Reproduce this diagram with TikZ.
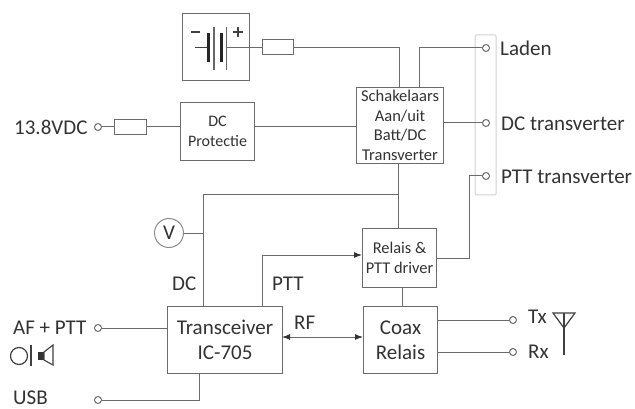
\documentclass[tikz,border=0pt]{standalone}
\usepackage{fontspec}
\setmainfont{Carlito}
\usetikzlibrary{arrows.meta}
\definecolor{ln}{gray}{0.42}
\tikzset{
  x=1pt,y=-1pt,
  conn/.style={draw=ln,line width=1pt},
  boxn/.style={draw=ln,line width=1.1pt,fill=white,inner sep=0pt,align=center,text=black!80,anchor=north west},
  term/.style={circle,draw=ln,line width=1pt,fill=white,minimum size=7pt,inner sep=0pt},
  lab/.style={text=black!80,font=\fontsize{21}{25}\selectfont,inner sep=0pt},
  arr/.style={conn,-{Latex[length=8pt,width=6pt,black!80]}},
  darr/.style={conn,{Latex[length=8pt,width=6pt,black!80]}-{Latex[length=8pt,width=6pt,black!80]}}
}
\begin{document}
\begin{tikzpicture}
\useasboundingbox (0,0) rectangle (635,409);
\fill[white] (0,0) rectangle (635,409);
% connector strip
\draw[black!18,line width=1pt,rounded corners=1pt] (475,35) rectangle (496,195);
% boxes
\node[boxn,minimum width=67pt,minimum height=67pt] (bat) at (182,13) {};
\node[boxn,minimum width=87pt,minimum height=76pt,font=\fontsize{16.5}{19.5}\selectfont] (sw) at (356,87) {Schakelaars\\Aan/uit\\Batt/DC\\Transverter};
\node[boxn,minimum width=74pt,minimum height=58pt,font=\fontsize{16}{20}\selectfont] (dcp) at (180,102) {DC\\Protectie};
\node[boxn,minimum width=74pt,minimum height=59pt,font=\fontsize{16.4}{19.5}\selectfont] (rel) at (362,228) {Relais \&\\PTT driver};
\node[boxn,minimum width=115pt,minimum height=67pt,font=\fontsize{21}{25}\selectfont] (trx) at (167,306) {Transceiver\\IC-705};
\node[boxn,minimum width=74pt,minimum height=67pt,font=\fontsize{21}{25}\selectfont] (cox) at (363,306) {Coax\\Relais};
% terminals
\node[term] (tlad) at (486,48) {};
\node[term] (tdc) at (486,123) {};
\node[term] (tptt) at (486,176) {};
\node[term] (tin) at (98,127) {};
\node[term] (taf) at (98,328) {};
\node[term] (tusb) at (98,400) {};
\node[term] (ttx) at (513,320) {};
\node[term] (trxx) at (513,352) {};
\node[circle,draw=black!45,line width=1pt,fill=white,minimum size=29pt,inner sep=0pt,text=black!80,font=\fontsize{21}{25}\selectfont] (vm) at (169,233) {V};
% fuses
\node[draw=ln,line width=1pt,minimum width=31pt,minimum height=15pt,inner sep=0pt] (f1) at (277.5,47.5) {};
\node[draw=ln,line width=1pt,minimum width=32pt,minimum height=15pt,inner sep=0pt] (f2) at (130,127) {};
% coordinates
\coordinate (batr) at (226,48);
\coordinate (swa) at (399,87);
\coordinate (swl) at (419,87);
\coordinate (swb) at (398,163);
\coordinate (j1) at (398,195);
\coordinate (rela) at (398,228);
\coordinate (relb) at (402,287);
\coordinate (coxa) at (402,306);
\coordinate (trxd) at (203,306);
\coordinate (trxp) at (262,306);
\coordinate (trxu) at (199,373);
\coordinate (swr) at (443,123);
\coordinate (relr) at (436,258);
\coordinate (rell) at (362,255);
\coordinate (trxr) at (282,337);
\coordinate (coxl) at (363,337);
% connectors
\draw[conn] (batr) -- (f1.west |- batr);
\draw[conn] (f1.east |- batr) -- (batr -| swa) -- (swa);
\draw[conn] (swl) -- (swl |- tlad) -- (tlad.west);
\draw[conn] (swr) -- (tdc.west);
\draw[conn] (tptt.west) -- (469,176) -- (469,258) -- (relr);
\draw[conn] (tin.east) -- (f2.west);
\draw[conn] (f2.east) -- (f2.east -| dcp.west);
\draw[conn] (dcp.east |- f2) -- (sw.west |- f2);
\draw[conn] (swb) -- (rela);
\draw[conn] (j1) -- (j1 -| trxd) -- (trxd);
\draw[conn] (vm.east) -- (vm.east -| trxd);
\draw[arr] (trxp) -- (trxp |- rell) -- (rell);
\draw[conn] (relb) -- (coxa);
\draw[darr] (trxr) -- (coxl);
\draw[conn] (taf.east) -- (taf.east -| trx.west);
\draw[conn] (tusb.east) -- (tusb.east -| trxu) -- (trxu);
\draw[conn] (ttx.west -| cox.east) -- (ttx.west);
\draw[conn] (trxx.west -| cox.east) -- (trxx.west);
% battery symbol
\draw[black!75,line width=1pt] (195,48) -- (208,48);
\draw[black!85,line width=3pt] (208,33) -- (208,62);
\draw[black!60,line width=1.5pt] (214,27) -- (214,70);
\draw[black!85,line width=3pt] (221,33) -- (221,62);
\draw[black!60,line width=1.5pt] (226.5,27) -- (226.5,70);
\draw[black!75,line width=1.5pt] (191,32) -- (200,32);
\draw[black!75,line width=1.5pt] (233,32) -- (243,32) (238,27) -- (238,37);
% labels
\node[lab,anchor=west] (llad) at (500,48) {Laden};
\node[lab,anchor=west] (ldc) at (501,124) {DC transverter};
\node[lab,anchor=west] (lptt) at (501,177) {PTT transverter};
\node[lab,anchor=west] (lin) at (14,127) {13.8VDC};
\node[lab,anchor=west] (laf) at (13,328) {AF + PTT};
\node[lab,anchor=west] (lusb) at (13,398) {USB};
\node[lab,anchor=west] (ldcl) at (172,284) {DC};
\node[lab,anchor=west] (lpl) at (272,284) {PTT};
\node[lab,anchor=west] (lrf) at (294,323) {RF};
\node[lab,anchor=west] (ltx) at (528,317) {Tx};
\node[lab,anchor=west] (lrx) at (528,352) {Rx};
% microphone and loudspeaker
\draw[black!75,line width=1.2pt] (19,356) circle (8.5);
\draw[black!75,line width=1.2pt] (31,345) -- (31,366);
\fill[black!80] (38,352) rectangle (44,360);
\draw[black!75,line width=1.1pt] (44,352) -- (53,345) -- (53,365) -- (44,360) -- cycle;
% antenna
\draw[black!75,line width=1.2pt] (553,313) -- (575,313) -- (564,328) -- cycle;
\draw[black!75,line width=1.2pt] (564,313) -- (564,355);
\end{tikzpicture}
\end{document}
